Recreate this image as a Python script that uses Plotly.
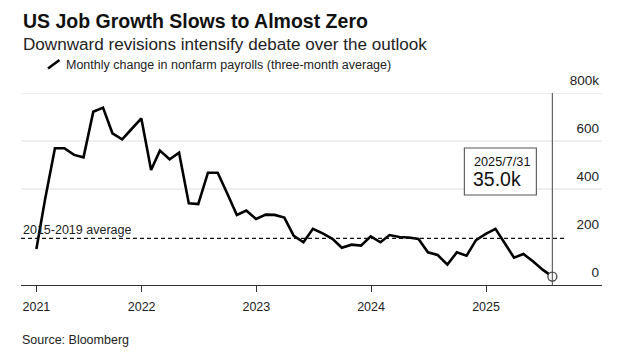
import pandas as pd
import plotly.graph_objects as go

# ---------------- data ----------------
START_MONTH = "2021-01-01"
payrolls_k = [
    # 2021
    150, 360, 570, 570, 542, 532, 722, 739, 632, 607, 650, 694,
    # 2022
    479, 560, 524, 551, 340, 337, 468, 468, 382, 292, 310, 275,
    # 2023
    293, 292, 281, 205, 178, 234, 215, 192, 155, 168, 164, 203,
    # 2024
    178, 208, 200, 198, 192, 136, 125, 85, 136, 122, 187, 213,
    # 2025
    234, 176, 114, 129, 98, 64, 35,
]
avg_2015_2019_k = 194
avg_label = "2015-2019 average"
series_label = "Monthly change in nonfarm payrolls (three-month average)"
title = "US Job Growth Slows to Almost Zero"
subtitle = "Downward revisions intensify debate over the outlook"
source = "Source: Bloomberg"

x_tick_vals = ["2021-01-31", "2022-01-01", "2023-01-01", "2024-01-01", "2025-01-01"]
x_tick_text = ["2021", "2022", "2023", "2024", "2025"]
y_tick_vals = [0, 200, 400, 600, 800]
y_tick_text = ["0", "200", "400", "600", "800k"]
grid_vals = [400, 600, 800]
X_RANGE = ["2020-12-13", "2026-01-05"]
Y_RANGE = [0, 800]
AVG_LINE_END = "2025-09-09"

dates = pd.date_range(START_MONTH, periods=len(payrolls_k), freq="MS") + pd.offsets.MonthEnd(0)
last_date = dates[-1]
last_val = payrolls_k[-1]

# ---------------- layout helpers ----------------
W, H = 624, 353
ML, MR, MT, MB = 21, 22, 93, 68
PW, PH = W - ML - MR, H - MT - MB
BOTTOM = H - MB


def px_x(px):
    return (px - ML) / PW


def px_y(py):
    return (BOTTOM - py) / PH


FONT = "Liberation Sans, Arial, Helvetica, sans-serif"
INK = "#1a1a1a"

fig = go.Figure()

fig.add_trace(go.Scatter(
    x=dates, y=payrolls_k, mode="lines",
    line=dict(color="#000000", width=2.6),
    hoverinfo="skip", showlegend=False,
))
fig.add_trace(go.Scatter(
    x=[last_date], y=[last_val], mode="markers",
    marker=dict(size=9, color="white", line=dict(color="#444444", width=1.3)),
    hoverinfo="skip", showlegend=False,
))

shapes = []
for g in grid_vals:
    shapes.append(dict(type="line", xref="paper", yref="y", x0=0, x1=1, y0=g, y1=g,
                       line=dict(color="#dedede", width=1), layer="below"))
shapes.append(dict(type="line", xref="x", yref="y", x0=X_RANGE[0], x1=AVG_LINE_END,
                   y0=avg_2015_2019_k, y1=avg_2015_2019_k,
                   line=dict(color="#111111", width=1.2, dash="4px,3px")))
shapes.append(dict(type="line", xref="x", yref="paper", x0=last_date, x1=last_date, y0=0, y1=1,
                   line=dict(color="#555555", width=1.1)))
# legend slash icon
shapes.append(dict(type="line", xref="paper", yref="paper",
                   x0=px_x(48), x1=px_x(59.5), y0=px_y(68.5), y1=px_y(60),
                   line=dict(color="#000000", width=2.6)))
# tooltip box
shapes.append(dict(type="rect", xref="x", yref="y", xsizemode="pixel", ysizemode="pixel",
                   xanchor=last_date, yanchor=0, x0=-88, x1=-16, y0=90, y1=137,
                   line=dict(color="#555555", width=1.1), fillcolor="white"))

ann = []
ann.append(dict(xref="paper", yref="paper", x=px_x(20.5), y=px_y(20.9), xanchor="left", yanchor="middle",
                text=f"<b>{title}</b>", showarrow=False, font=dict(family=FONT, size=19.5, color="#111111")))
ann.append(dict(xref="paper", yref="paper", x=px_x(20.5), y=px_y(44.8), xanchor="left", yanchor="middle",
                text=subtitle, showarrow=False, font=dict(family=FONT, size=17.1, color="#222222")))
ann.append(dict(xref="paper", yref="paper", x=px_x(63.5), y=px_y(64.5), xanchor="left", yanchor="middle",
                text=series_label, showarrow=False, font=dict(family=FONT, size=12.5, color="#222222")))
ann.append(dict(xref="paper", yref="paper", x=px_x(20), y=px_y(339.8), xanchor="left", yanchor="middle",
                text=source, showarrow=False, font=dict(family=FONT, size=12.5, color="#222222")))
ann.append(dict(xref="paper", yref="y", x=0, y=avg_2015_2019_k, xanchor="left", yanchor="middle",
                yshift=8, text=avg_label, showarrow=False, font=dict(family=FONT, size=12.5, color="#222222")))
ann.append(dict(xref="x", yref="y", x=last_date, y=0, xanchor="left", yanchor="middle",
                xshift=-80.5, yshift=123.5, text=f"{last_date.year}/{last_date.month}/{last_date.day}",
                showarrow=False, font=dict(family=FONT, size=12.7, color="#111111")))
ann.append(dict(xref="x", yref="y", x=last_date, y=0, xanchor="left", yanchor="middle",
                xshift=-81, yshift=106.5, text=f"{last_val:.1f}k",
                showarrow=False, font=dict(family=FONT, size=19.5, color="#111111")))

fig.update_layout(
    width=W, height=H,
    margin=dict(l=ML, r=MR, t=MT, b=MB, pad=0),
    paper_bgcolor="white", plot_bgcolor="white",
    font=dict(family=FONT, color=INK),
    shapes=shapes, annotations=ann, showlegend=False,
    xaxis=dict(
        type="date", range=X_RANGE, tickvals=x_tick_vals, ticktext=x_tick_text,
        showgrid=False, zeroline=False, showline=True, linecolor="#333333", linewidth=1,
        ticks="outside", ticklen=6, tickwidth=1, tickcolor="#333333",
        ticklabelstandoff=4,
        tickfont=dict(family=FONT, size=12.5, color="#222222"),
    ),
    yaxis=dict(
        range=Y_RANGE, tickvals=y_tick_vals, ticktext=y_tick_text, side="right",
        ticklabelposition="inside top", ticklabeloverflow="allow", ticklabelshift=-3,
        showgrid=False, zeroline=False, showline=False, ticks="",
        tickfont=dict(family=FONT, size=13.5, color="#222222"),
    ),
)

fig.write_html("out.html", config={"displayModeBar": False})
